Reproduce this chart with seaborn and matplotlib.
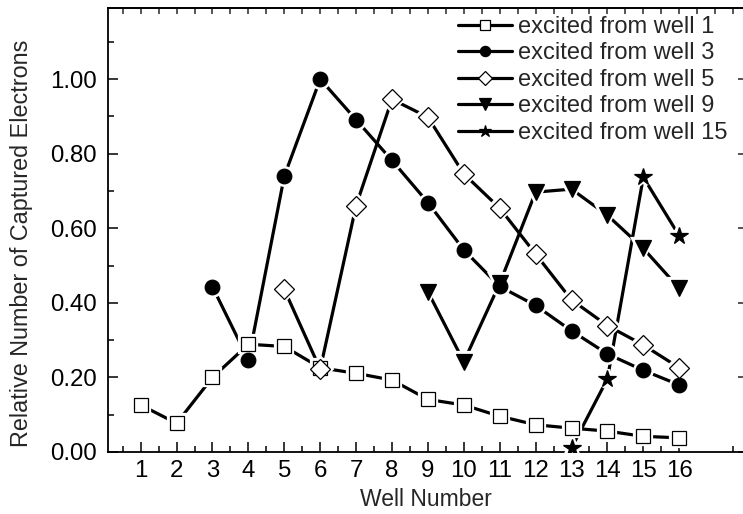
import matplotlib
matplotlib.use("Agg")
import matplotlib.pyplot as plt
from matplotlib.lines import Line2D
from matplotlib.ticker import MultipleLocator, FixedLocator, FormatStrFormatter
import numpy as np
import pandas as pd
import seaborn as sns

# Relative number of captured electrons per well, for each excitation well
wells_from_1 = list(range(1, 17))
captured_from_1 = [0.126, 0.077, 0.200, 0.289, 0.283, 0.226, 0.211, 0.193,
                   0.141, 0.126, 0.096, 0.073, 0.064, 0.056, 0.042, 0.038]

wells_from_3 = list(range(3, 17))
captured_from_3 = [0.443, 0.247, 0.740, 1.000, 0.891, 0.782, 0.669, 0.542,
                   0.444, 0.393, 0.325, 0.263, 0.219, 0.180]

wells_from_5 = list(range(5, 17))
captured_from_5 = [0.436, 0.222, 0.661, 0.946, 0.898, 0.746, 0.654, 0.531,
                   0.408, 0.339, 0.287, 0.226]

wells_from_9 = list(range(9, 17))
captured_from_9 = [0.430, 0.242, 0.452, 0.697, 0.705, 0.635, 0.546, 0.439]

wells_from_15 = list(range(13, 17))
captured_from_15 = [0.011, 0.196, 0.737, 0.580]

series_labels = ["excited from well 1", "excited from well 3",
                 "excited from well 5", "excited from well 9",
                 "excited from well 15"]
x_tick_labels = [str(i) for i in range(1, 17)]

frames = []
for lab, xs, ys in zip(series_labels,
                       [wells_from_1, wells_from_3, wells_from_5, wells_from_9, wells_from_15],
                       [captured_from_1, captured_from_3, captured_from_5, captured_from_9, captured_from_15]):
    frames.append(pd.DataFrame({"well": xs, "captured": ys, "series": lab}))
df = pd.concat(frames, ignore_index=True)

marker_styles = {
    "excited from well 1": dict(marker="s", ms=10.5, mfc="white"),
    "excited from well 3": dict(marker="o", ms=10.5, mfc="black"),
    "excited from well 5": dict(marker="D", ms=10.0, mfc="white"),
    "excited from well 9": dict(marker="v", ms=12.0, mfc="black"),
    "excited from well 15": dict(marker="*", ms=13.0, mfc="black"),
}

sns.set_style("ticks")
plt.rcParams["font.family"] = ["Liberation Sans", "DejaVu Sans"]

fig = plt.figure(figsize=(7.43, 5.14), dpi=100)
ax = fig.add_axes([108.3 / 743, 1 - 452 / 514, (744 - 108.3) / 743, (452 - 8.3) / 514])

LW = 2.3
for lab in series_labels:
    sub = df[df["series"] == lab]
    st = marker_styles[lab]
    sns.lineplot(data=sub, x="well", y="captured", ax=ax, color="black",
                 lw=LW, estimator=None, legend=False, zorder=2)
    # white halo leaves a small gap between the line and each symbol
    ax.plot(sub["well"], sub["captured"], ls="none", marker=st["marker"],
            ms=st["ms"], mfc="white", mec="white", mew=4.5, zorder=3)
    ax.plot(sub["well"], sub["captured"], ls="none", marker=st["marker"],
            ms=st["ms"], mfc=st["mfc"], mec="black", mew=0.9, zorder=4)

ax.set_xlim(0.0975, 17.805)
ax.set_ylim(0, 1.19)

ax.xaxis.set_major_locator(FixedLocator(range(1, 17)))
ax.set_xticklabels(x_tick_labels)
ax.xaxis.set_minor_locator(FixedLocator([i + 0.5 for i in range(0, 18) if i != 16]))
ax.yaxis.set_major_locator(MultipleLocator(0.2))
ax.yaxis.set_minor_locator(MultipleLocator(0.1))
ax.yaxis.set_major_formatter(FormatStrFormatter("%.2f"))

ax.tick_params(which="both", direction="in", top=False, right=False,
               width=1.1, color="black", labelsize=17.3, labelcolor="black")
ax.tick_params(which="major", length=7, pad=6)
ax.tick_params(which="minor", length=4)
ax.tick_params(axis="y", which="major", pad=8)

for side in ["left", "bottom", "top", "right"]:
    ax.spines[side].set_visible(True)
    ax.spines[side].set_linewidth(1.3)
    ax.spines[side].set_color("black")

top = ax.secondary_xaxis("top")
top.xaxis.set_major_locator(FixedLocator(np.arange(0.5, 17.6, 0.5)))
top.tick_params(direction="in", length=4, width=1.1, labeltop=False)
top.spines["top"].set_linewidth(1.3)

right = ax.secondary_yaxis("right")
right.yaxis.set_major_locator(MultipleLocator(0.2))
right.tick_params(direction="in", length=4, width=1.1, labelright=False)

ax.set_xlabel("Well Number", fontsize=16.5, labelpad=4)
ax.set_ylabel("Relative Number of Captured Electrons", fontsize=16.8)
ax.yaxis.set_label_coords(-0.118, 0.471)

handles = []
for lab in series_labels:
    st = marker_styles[lab]
    handles.append(Line2D([0], [0], color="black", lw=LW, marker=st["marker"],
                          ms=st["ms"] * 0.7, mfc=st["mfc"], mec="black", mew=0.9))
leg = fig.legend(handles, series_labels, loc="upper left",
                 bbox_to_anchor=(458 / 743, 1 - 16 / 514), frameon=False,
                 fontsize=17, borderpad=0, borderaxespad=0,
                 handlelength=2.3, handletextpad=0.25, labelspacing=0.19)

fig.savefig("out.png", dpi=100)
